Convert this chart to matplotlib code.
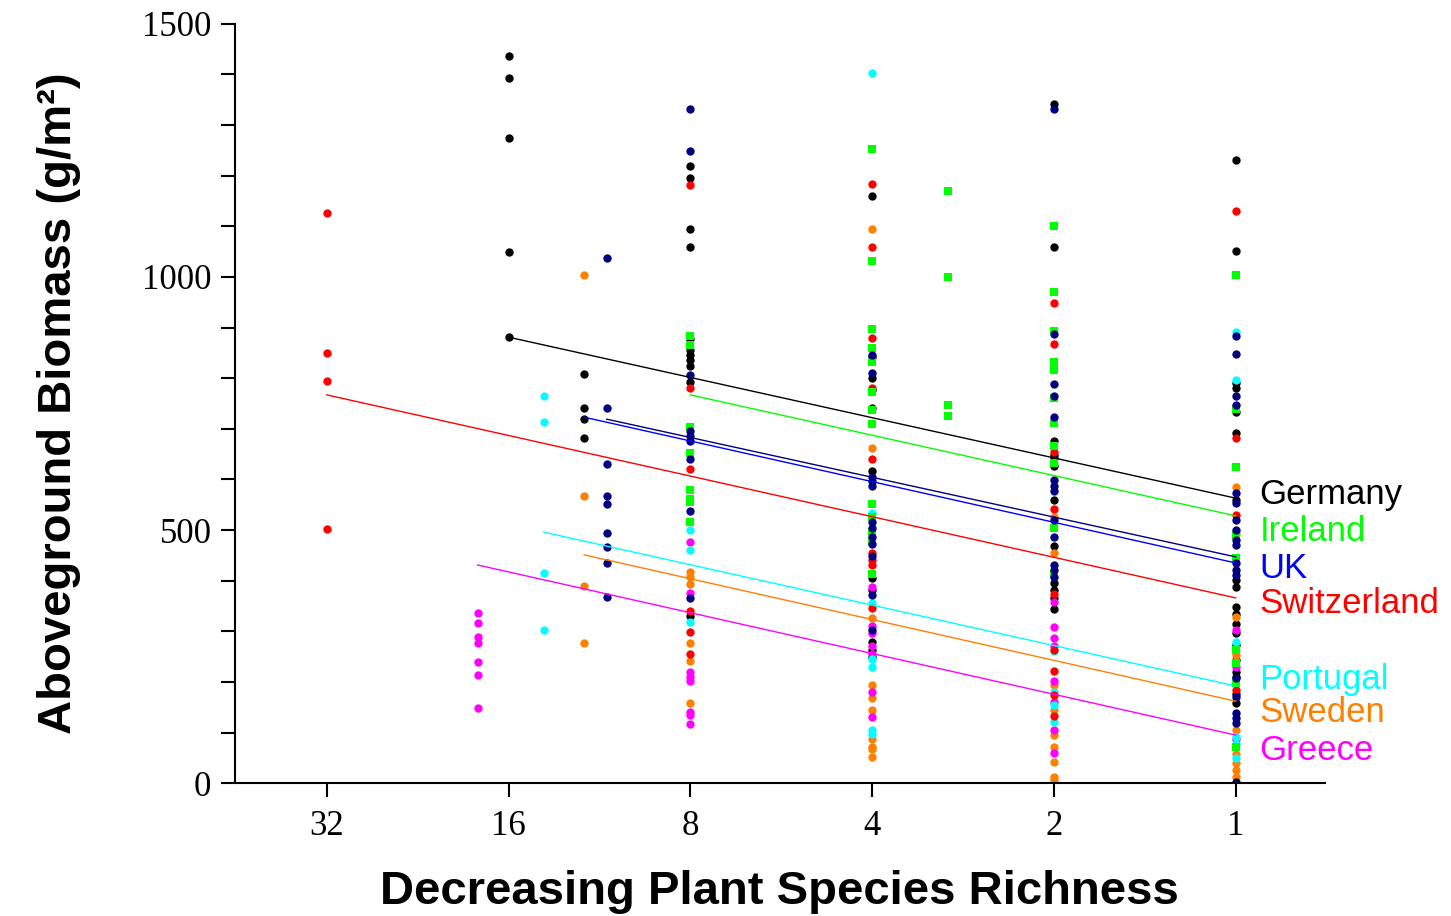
import matplotlib
matplotlib.use("Agg")
import matplotlib.pyplot as plt
from matplotlib.ticker import FixedLocator, MultipleLocator, NullLocator

# biomass readings per country, keyed by number of species sown
germany = {
    16: [1436, 1393, 1274, 1050, 882],
    12: [808, 741, 720, 682],
    8: [1220, 1196, 1094, 1059, 877, 855, 845, 835, 825, 793, 330],
    4: [1160, 841, 801, 777, 742, 617, 406, 381, 279, 264, 250],
    2: [1342, 1060, 676, 649, 643, 626, 559, 468, 395, 381, 365, 344],
    1: [1231, 1051, 790, 780, 733, 691, 560, 401, 388, 348, 335, 315, 296,
        273, 243, 220, 210, 177, 158],
}
ireland = {
    8: [883, 866, 704, 652, 580, 561, 556, 516],
    4: [1252, 1032, 898, 859, 831, 772, 737, 709, 551, 525, 497, 478, 414],
    3: [1170, 999, 747, 725],
    2: [1101, 970, 894, 831, 816, 760, 711, 666, 633, 505, 413],
    1: [1004, 740, 625, 490, 444, 263, 237, 197, 72],
}
uk = {
    11: [1038, 741, 630, 568, 552, 495, 466, 434, 368],
    8: [1331, 1249, 806, 695, 685, 675, 640, 538, 365],
    4: [846, 811, 605, 597, 588, 515, 505, 487, 472, 449, 372, 302],
    2: [1331, 887, 789, 765, 724, 599, 587, 578, 520, 487, 431, 421, 408],
    1: [884, 848, 765, 747, 573, 553, 520, 500, 480, 470, 434, 421, 411,
        207, 171, 138, 128, 118, 3],
}
switzerland = {
    32: [1127, 850, 795, 502],
    8: [1181, 780, 620, 340, 299, 256],
    4: [1184, 1060, 879, 781, 641, 455, 441, 431, 346],
    2: [948, 867, 655, 541, 373, 264, 221, 174, 132],
    1: [1130, 681, 530, 184],
}
portugal = {
    14: [765, 713, 416, 302],
    8: [501, 460, 319],
    4: [1402, 533, 356, 246, 230, 105, 98],
    2: [261, 180, 154, 120],
    1: [891, 796, 279, 92, 78, 49],
}
sweden = {
    12: [1003, 567, 389, 276],
    8: [418, 408, 393, 277, 241, 159],
    4: [1095, 663, 327, 193, 169, 144, 88, 72, 67, 52],
    2: [526, 455, 194, 144, 95, 72, 42, 12, 6],
    1: [586, 493, 329, 253, 105, 58, 39, 26, 12],
}
greece = {
    18: [337, 317, 289, 276, 239, 213, 148],
    8: [477, 376, 220, 210, 202, 141, 134, 117],
    4: [388, 310, 296, 271, 256, 180, 130],
    2: [358, 309, 286, 271, 202, 161, 105, 60],
    1: [302, 230, 88],
}

# fitted lines: (richness at start, biomass at start, biomass at 1 species)
fit_germany = (16, 881, 563)
fit_ireland = (8, 767, 528)
fit_uk_a = (11, 719, 447)
fit_uk_b = (12, 723, 435)
fit_switzerland = (32, 767, 366)
fit_portugal = (14, 496, 192)
fit_sweden = (12, 451, 162)
fit_greece = (18, 431, 95)

label_names = ["Germany", "Ireland", "UK", "Switzerland", "Portugal", "Sweden", "Greece"]
label_heights = [571, 498, 425, 354, 204, 140, 65]

x_ticks = [32, 16, 8, 4, 2, 1]

series = [
    (germany, "#000000", "o"),
    (sweden, "#ff8000", "o"),
    (greece, "#ff00ff", "o"),
    (portugal, "#00ffff", "o"),
    (switzerland, "#ff0000", "o"),
    (ireland, "#00ff00", "s"),
    (uk, "#000080", "o"),
]
fits = [
    (fit_germany, "#000000"),
    (fit_ireland, "#00ff00"),
    (fit_uk_a, "#000080"),
    (fit_uk_b, "#0000ff"),
    (fit_switzerland, "#ff0000"),
    (fit_portugal, "#00ffff"),
    (fit_sweden, "#ff8000"),
    (fit_greece, "#ff00ff"),
]
label_colors = ["#000000", "#00ff00", "#0000ff", "#ff0000", "#00ffff", "#ff8000", "#ff00ff"]

fig = plt.figure(figsize=(14.51, 9.16), dpi=100, facecolor="white")
ax = fig.add_axes([0.162, 0.145, 0.751, 0.829])

for data, color, marker in series:
    xs, ys = [], []
    for richness, values in data.items():
        xs += [richness] * len(values)
        ys += values
    size = 28 if marker == "s" else 36
    ax.scatter(xs, ys, s=size, color=color, marker=marker, linewidths=0, zorder=2)

for (x0, y0, y1), color in fits:
    ax.plot([x0, 1], [y0, y1], color=color, linewidth=1.0, zorder=3)

for name, height, color in zip(label_names, label_heights, label_colors):
    ax.annotate(name, xy=(1, height), xytext=(17, 0), textcoords="offset points",
                color=color, fontsize=25, family="Liberation Sans",
                va="center", ha="left", annotation_clip=False)

ax.set_xscale("log", base=2)
ax.set_xlim(45.4, 0.712)
ax.set_ylim(0, 1500)
ax.xaxis.set_major_locator(FixedLocator(x_ticks))
ax.xaxis.set_minor_locator(NullLocator())
ax.set_xticklabels([str(t) for t in x_ticks])
ax.yaxis.set_major_locator(MultipleLocator(500))
ax.yaxis.set_minor_locator(MultipleLocator(100))

for side in ["top", "right"]:
    ax.spines[side].set_visible(False)
for side in ["left", "bottom"]:
    ax.spines[side].set_linewidth(1.5)

ax.tick_params(axis="both", which="both", direction="out", width=1.5, length=10)
ax.tick_params(axis="y", which="major", pad=7)
ax.tick_params(axis="x", which="major", pad=9)
for lab in ax.get_xticklabels() + ax.get_yticklabels():
    lab.set_fontfamily("Liberation Serif")
    lab.set_fontsize(25)

ax.set_xlabel("Decreasing Plant Species Richness", fontsize=34, fontweight="bold",
              family="Liberation Sans", labelpad=20)
ax.set_ylabel("Aboveground Biomass (g/m²)", fontsize=34, fontweight="bold",
              family="Liberation Sans", labelpad=44)

fig.savefig("out.png", dpi=100, facecolor="white")
